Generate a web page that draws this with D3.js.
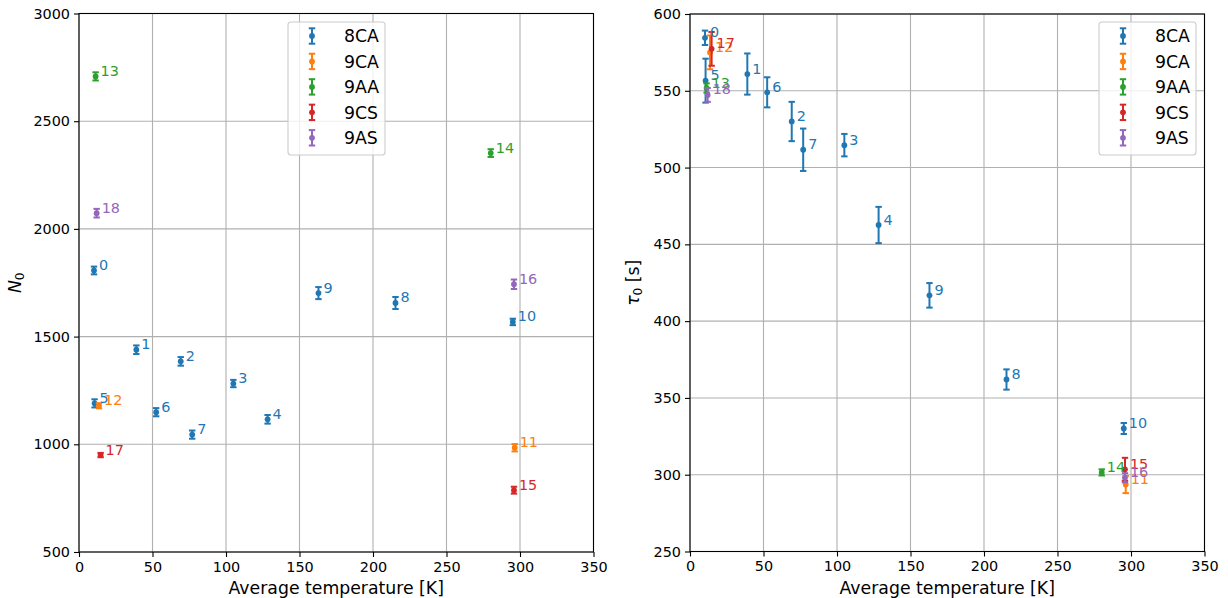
<!DOCTYPE html>
<html>
<head>
<meta charset="utf-8">
<script src="https://cdn.jsdelivr.net/npm/d3@7"></script>
<style>
  html, body { margin: 0; padding: 0; background: #fff; }
  svg { display: block; font-family: "DejaVu Sans", sans-serif; }
</style>
</head>
<body>
<svg id="chart" width="1228" height="598"></svg>
<script>
// ---------------- data ----------------
const seriesNames = ["8CA", "9CA", "9AA", "9CS", "9AS"];
const seriesColors = ["#1f77b4", "#ff7f0e", "#2ca02c", "#d62728", "#9467bd"];
const pointIds = [0, 1, 2, 3, 4, 5, 6, 7, 8, 9, 10, 11, 12, 13, 14, 15, 16, 17, 18];
const pointSeries = [0, 0, 0, 0, 0, 0, 0, 0, 0, 0, 0, 1, 1, 2, 2, 3, 4, 3, 4];
const temperature = [10.2, 39.0, 69.2, 105.0, 128.3, 10.6, 52.5, 77.0, 215.3, 162.9, 295.1, 296.4, 13.6, 11.3, 280.1, 295.9, 295.9, 14.7, 12.0];
const n0 = [1807, 1439, 1385, 1282, 1116, 1190, 1149, 1045, 1656, 1702, 1568, 984, 1179, 2708, 2352, 787, 1743, 950, 2073];
const n0Err = [18, 20, 20, 17, 20, 19, 19, 19, 28, 28, 15, 17, 12, 19, 18, 16, 22, 10, 20];
const tau0 = [584.5, 560.9, 530.0, 514.6, 462.6, 556.6, 549.0, 511.6, 362.0, 416.8, 330.1, 293.6, 575.0, 551.8, 301.5, 303.5, 298.0, 577.3, 547.3];
const tau0Err = [4.7, 13.4, 12.8, 7.3, 11.8, 14.3, 9.8, 13.8, 6.6, 8.0, 3.6, 5.6, 11.0, 3.0, 2.0, 7.5, 3.0, 11.0, 4.5];
const xTicks = [0, 50, 100, 150, 200, 250, 300, 350];
const n0Ticks = [500, 1000, 1500, 2000, 2500, 3000];
const tau0Ticks = [250, 300, 350, 400, 450, 500, 550, 600];
const xLabel = "Average temperature [K]";

// ---------------- drawing ----------------
const svg = d3.select("#chart");
const TICK_FS = 14.4, LABEL_FS = 17.3, LEGEND_FS = 17.3;

function drawPanel(cfg) {
  const x = d3.scaleLinear().domain([0, 350]).range([cfg.x0, cfg.x1]);
  const y = d3.scaleLinear().domain(cfg.yDomain).range([cfg.y0, cfg.y1]);
  const g = svg.append("g");

  // grid
  g.append("g").selectAll("line").data(xTicks).join("line")
    .attr("x1", d => x(d)).attr("x2", d => x(d))
    .attr("y1", cfg.y0).attr("y2", cfg.y1)
    .attr("stroke", "#b0b0b0").attr("stroke-width", 1.1);
  g.append("g").selectAll("line").data(cfg.yTicks).join("line")
    .attr("y1", d => y(d)).attr("y2", d => y(d))
    .attr("x1", cfg.x0).attr("x2", cfg.x1)
    .attr("stroke", "#b0b0b0").attr("stroke-width", 1.1);

  // axes
  const xAxis = d3.axisBottom(x).tickValues(xTicks).tickSize(5).tickPadding(4).tickFormat(d3.format("d"));
  const yAxis = d3.axisLeft(y).tickValues(cfg.yTicks).tickSize(5).tickPadding(4).tickFormat(d3.format("d"));
  const gx = g.append("g").attr("transform", `translate(0,${cfg.y0})`).call(xAxis);
  const gy = g.append("g").attr("transform", `translate(${cfg.x0},0)`).call(yAxis);
  [gx, gy].forEach(a => {
    a.select(".domain").remove();
    a.selectAll(".tick line").attr("stroke", "#000").attr("stroke-width", 1.1);
    a.selectAll(".tick text").attr("fill", "#000")
      .style("font-family", "DejaVu Sans").style("font-size", TICK_FS + "px");
  });
  gx.selectAll(".tick text").attr("dy", "0.76em");

  // frame
  g.append("rect").attr("x", cfg.x0).attr("y", cfg.y1)
    .attr("width", cfg.x1 - cfg.x0).attr("height", cfg.y0 - cfg.y1)
    .attr("fill", "none").attr("stroke", "#000").attr("stroke-width", 1.1);

  // data
  const pts = pointIds.map((id, i) => ({
    id, s: pointSeries[i], t: temperature[i], v: cfg.values[i], e: cfg.errors[i]
  }));
  const cap = 3.2;
  const order = [];
  seriesNames.forEach((_, si) => pts.filter(p => p.s === si).forEach(p => order.push(p)));
  const eg = g.append("g");
  order.forEach(p => {
    const c = seriesColors[p.s];
    const px = x(p.t), yt = y(p.v + p.e), yb = y(p.v - p.e);
    eg.append("line").attr("x1", px).attr("x2", px).attr("y1", yt).attr("y2", yb)
      .attr("stroke", c).attr("stroke-width", 2);
    eg.append("line").attr("x1", px - cap).attr("x2", px + cap).attr("y1", yt).attr("y2", yt)
      .attr("stroke", c).attr("stroke-width", 2);
    eg.append("line").attr("x1", px - cap).attr("x2", px + cap).attr("y1", yb).attr("y2", yb)
      .attr("stroke", c).attr("stroke-width", 2);
    eg.append("circle").attr("cx", px).attr("cy", y(p.v)).attr("r", 2.9).attr("fill", c);
  });
  const lg = g.append("g");
  order.forEach(p => {
    lg.append("text").attr("x", x(p.t) + 5).attr("y", y(p.v) - 0.5)
      .attr("fill", seriesColors[p.s])
      .style("font-size", TICK_FS + "px").text(p.id);
  });

  // axis labels
  g.append("text").attr("x", (cfg.x0 + cfg.x1) / 2).attr("y", 594)
    .attr("text-anchor", "middle").style("font-size", LABEL_FS + "px").attr("fill", "#000")
    .text(xLabel);
  const yl = g.append("text")
    .attr("transform", `translate(${cfg.ylabX},${(cfg.y0 + cfg.y1) / 2}) rotate(-90)`)
    .attr("text-anchor", "middle").style("font-size", LABEL_FS + "px").attr("fill", "#000");
  yl.append("tspan").style("font-style", "italic").text(cfg.ylabMain);
  yl.append("tspan").attr("dy", 3.5).style("font-size", (LABEL_FS * 0.7) + "px").text("0");
  if (cfg.ylabRest) yl.append("tspan").attr("dy", -3.5).text(cfg.ylabRest);

  // legend
  const L = cfg.legend;
  const leg = g.append("g");
  leg.append("rect").attr("x", L.x).attr("y", L.y).attr("width", 97).attr("height", 133)
    .attr("rx", 3).attr("fill", "#fff").attr("fill-opacity", 0.8)
    .attr("stroke", "#cccccc").attr("stroke-width", 1.1);
  seriesNames.forEach((name, si) => {
    const cy = L.y + 14 + si * 25.45;
    const c = seriesColors[si], ix = L.x + 24;
    leg.append("line").attr("x1", ix).attr("x2", ix).attr("y1", cy - 7.7).attr("y2", cy + 7.7)
      .attr("stroke", c).attr("stroke-width", 2);
    leg.append("line").attr("x1", ix - cap).attr("x2", ix + cap).attr("y1", cy - 7.7).attr("y2", cy - 7.7)
      .attr("stroke", c).attr("stroke-width", 2);
    leg.append("line").attr("x1", ix - cap).attr("x2", ix + cap).attr("y1", cy + 7.7).attr("y2", cy + 7.7)
      .attr("stroke", c).attr("stroke-width", 2);
    leg.append("circle").attr("cx", ix).attr("cy", cy).attr("r", 2.9).attr("fill", c);
    leg.append("text").attr("x", L.x + 56).attr("y", cy + 6.2)
      .style("font-size", LEGEND_FS + "px").attr("fill", "#000").text(name);
  });
}

drawPanel({
  x0: 79, x1: 593.5, y0: 552, y1: 13.5,
  yDomain: [500, 3000], yTicks: n0Ticks,
  values: n0, errors: n0Err,
  ylabX: 20.7, ylabMain: "N", ylabRest: null,
  legend: { x: 288, y: 22 }
});
drawPanel({
  x0: 690, x1: 1204.5, y0: 551.5, y1: 14,
  yDomain: [250, 600], yTicks: tau0Ticks,
  values: tau0, errors: tau0Err,
  ylabX: 638.5, ylabMain: "τ", ylabRest: " [s]",
  legend: { x: 1099, y: 22 }
});
</script>
</body>
</html>
